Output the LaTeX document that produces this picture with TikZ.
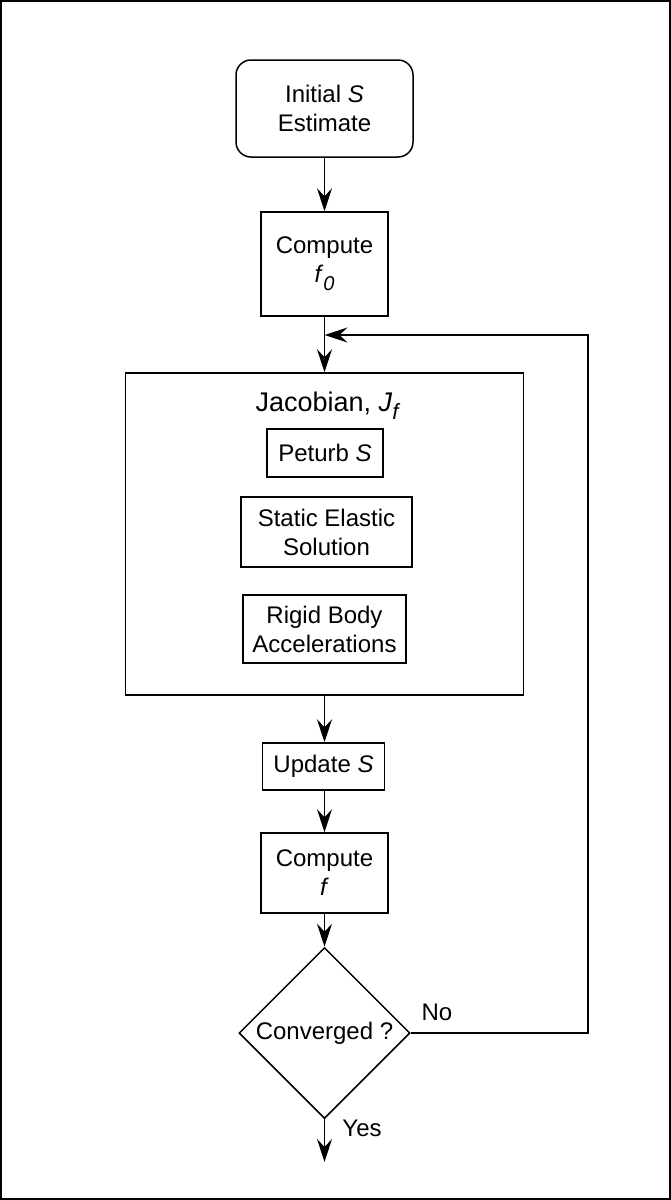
\documentclass[tikz,border=0pt]{standalone}
\usepackage{fontspec}
\setmainfont{Liberation Sans}
\usetikzlibrary{shapes.geometric,arrows.meta}
\newcommand{\subx}[1]{\raisebox{-0.32em}{\fontsize{20}{20}\selectfont\itshape #1}}
\begin{document}
\begin{tikzpicture}[x=1pt,y=-1pt,
  every node/.style={font=\fontsize{24}{29}\selectfont, inner sep=0pt, align=center},
  boxs/.style={draw, line width=1.5pt, rectangle},
  arr/.style={line width=1.5pt, -{Stealth[length=23pt,width=15pt,inset=8pt]}},
  lbl/.style={font=\fontsize{24}{29}\selectfont}]
\useasboundingbox (0,0) rectangle (671,1200);
\draw[line width=1.5pt] (1,1) rectangle (670,1199);

\node[boxs, rounded corners=15pt, minimum width=177pt, minimum height=97pt] (start) at (324.5,108.5) {Initial \textit{S}\\Estimate};
\node[boxs, minimum width=127pt, minimum height=104pt] (f0) at (324.5,264) {Compute\\\textit{f}\subx{0}};
\node[boxs, minimum width=398pt, minimum height=322pt] (jac) at (324.5,534) {};
\node[font=\fontsize{27}{30}\selectfont, anchor=base] (jtitle) at (327,411) {Jacobian, \textit{J}\subx{\fontsize{22}{22}\selectfont f}};
\node[boxs, minimum width=116pt, minimum height=48pt] (pert) at (325,453) {Peturb \textit{S}};
\node[boxs, minimum width=171pt, minimum height=70pt] (stat) at (326.5,532) {Static Elastic\\Solution};
\node[boxs, minimum width=163pt, minimum height=68pt] (rigid) at (324.5,629) {Rigid Body\\Accelerations};
\node[boxs, minimum width=122pt, minimum height=47pt] (upd) at (323.5,766.5) {Update \textit{S}};
\node[boxs, minimum width=127pt, minimum height=80pt] (cf) at (324.5,873) {Compute\\\textit{f}};
\node[draw, line width=1.5pt, diamond, aspect=1, minimum width=171pt, minimum height=171pt] (conv) at (324.5,1033) {Converged ?};

\coordinate (junc) at (324.5,335);
\coordinate (corner) at (588,335);
\coordinate (endp) at (324.5,1162);

\node[lbl] (no) at (437,1012) {No};
\node[lbl] (yes) at (362,1128) {Yes};

\draw[arr] (start) -- (f0);
\draw[arr] (f0) -- (jac);
\draw[arr] (jac.south) -- (jac.south |- upd.north);
\draw[arr] (upd.south -| cf.north) -- (cf.north);
\draw[arr] (cf) -- (conv);
\draw[arr] (conv.east) -| (corner) -- (junc);
\draw[arr] (conv.south) -- (endp);
\end{tikzpicture}
\end{document}
